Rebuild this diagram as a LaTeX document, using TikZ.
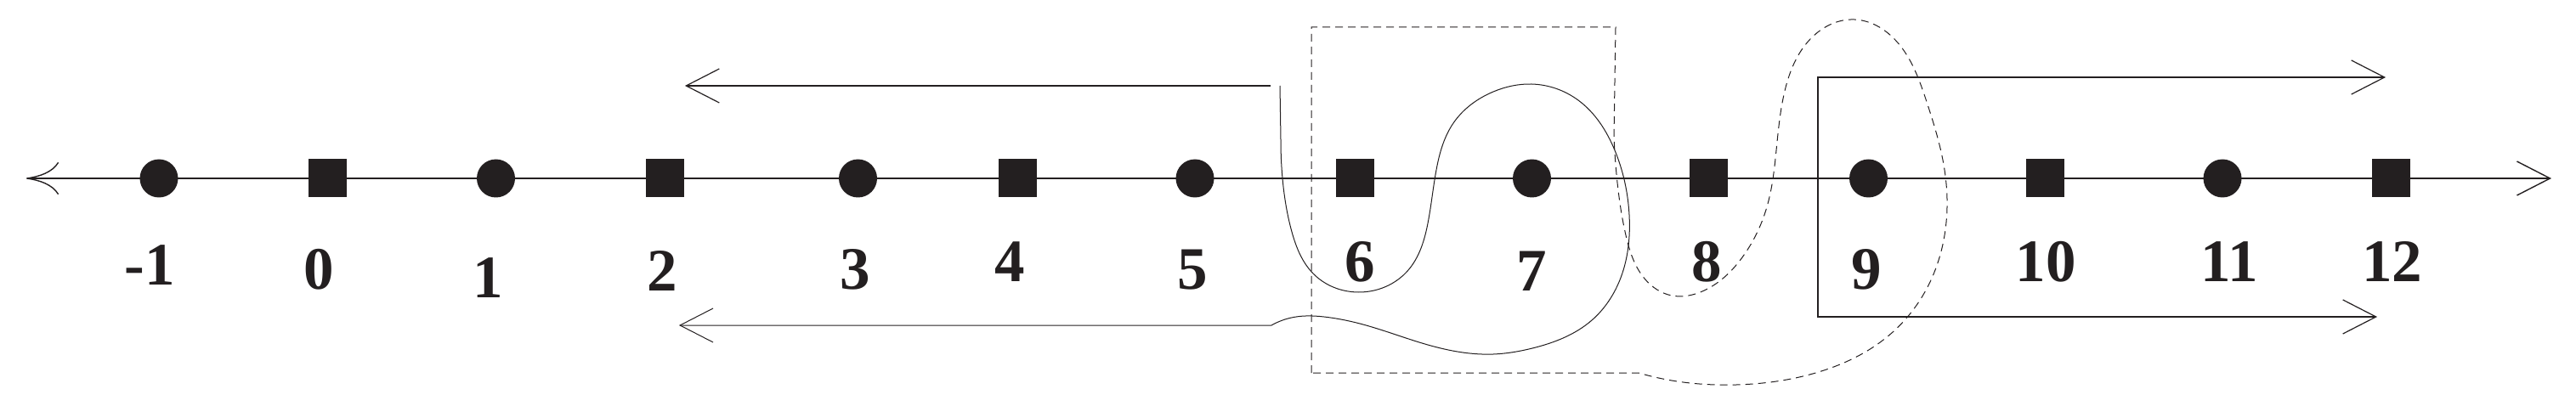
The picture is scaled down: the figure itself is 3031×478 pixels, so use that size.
\documentclass[tikz,border=0pt]{standalone}
\usepackage{fontspec}
\setmainfont{Liberation Serif}
\usetikzlibrary{arrows.meta,hobby}
\definecolor{ink}{RGB}{35,31,32}
\begin{document}
\begin{tikzpicture}[x=1pt,y=-1pt,
  dot/.style={circle, fill=ink, draw=none, inner sep=0pt, minimum size=45pt},
  sq/.style={rectangle, fill=ink, draw=none, inner sep=0pt, minimum size=45pt},
  lab/.style={anchor=base, inner sep=0pt, text=ink, font=\fontsize{71}{71}\selectfont\bfseries},
  axisline/.style={draw=ink, line width=1.4pt},
  arrline/.style={draw=ink, line width=1.2pt},
  curveline/.style={draw=ink, line width=1.0pt},
  dashline/.style={draw=ink, line width=1.0pt, dash pattern=on 9pt off 6pt},
  barb/.tip={Straight Barb[length=39pt,width=40pt]},
  cmbarb/.tip={Computer Modern Rightarrow[length=38pt,width=38pt]}
]
\useasboundingbox (0,0) rectangle (3031,478);

% axis
\coordinate (axL) at (31,210);
\coordinate (axR) at (3002,210);
\draw[axisline, {cmbarb}-{barb}] (axL) -- (axR);

% arrows on the left
\coordinate (tlS) at (1495,101);
\coordinate (tlE) at (806,101);
\draw[arrline, -{barb}] (tlS) -- (tlE);
\coordinate (cS) at (1506,101);
\coordinate (blS) at (1496,383);
\coordinate (blE) at (799,383);
\draw[curveline, use Hobby shortcut, -{barb}] (cS) -- (1507,165) .. (1509,210) .. (1520,273)
 .. (1545,322) .. (1598,344) .. (1657,318) .. (1680,263) .. (1690,200) .. (1710,145)
 .. (1757,108) .. (1802,99) .. (1857,118) .. (1900,177) .. (1917,253) .. (1907,327)
 .. (1873,377) .. (1803,410) .. (1757,417) .. (1680,406) .. (1600,381) .. (1562,373.5)
 .. (1522,373.5) .. (blS) -- (blE);

% bracket arrows on the right
\coordinate (rtE) at (2807,91);
\coordinate (rc1) at (2139,91);
\coordinate (rc2) at (2139,373);
\coordinate (rbE) at (2797,373);
\draw[arrline, {barb}-{barb}] (rtE) -- (rc1) -- (rc2) -- (rbE);

% dashed loop
\coordinate (d1) at (1543,439);
\coordinate (d2) at (1543,32);
\coordinate (d3) at (1901,32);
\draw[dashline, use Hobby shortcut] (d1) -- (d2) -- (d3) -- (1899,160) .. (1903,215)
 .. (1913,277) .. (1935,328) .. (1967,348) .. (2003,343) .. (2050,303) .. (2080,240)
 .. (2090,177) .. (2100,107) .. (2133,43) .. (2182,23) .. (2230,47) .. (2267,120)
 .. (2288,200) .. (2288,277) .. (2263,347) .. (2220,397) .. (2143,437) .. (2043,453)
 .. (1967,448) .. (1928,439) -- cycle;

% markers
\node[dot] (mneg) at (187,210) {};
\node[sq]  (m0)  at (385.5,210) {};
\node[dot] (m1)  at (583.5,210) {};
\node[sq]  (m2)  at (782,210) {};
\node[dot] (m3)  at (1009.5,210) {};
\node[sq]  (m4)  at (1197,210) {};
\node[dot] (m5)  at (1406,210) {};
\node[sq]  (m6)  at (1594.5,210) {};
\node[dot] (m7)  at (1802.5,210) {};
\node[sq]  (m8)  at (2010,210) {};
\node[dot] (m9)  at (2198.5,210) {};
\node[sq]  (m10) at (2406.5,210) {};
\node[dot] (m11) at (2615,210) {};
\node[sq]  (m12) at (2813,210) {};

% labels
\node[lab] (lneg) at (176,336) {-1};
\node[lab] (l0)  at (375,341) {0};
\node[lab] (l1)  at (574,351) {1};
\node[lab] (l2)  at (779.5,342) {2};
\node[lab] (l3)  at (1006.5,341) {3};
\node[lab] (l4)  at (1188,332) {4};
\node[lab] (l5)  at (1403,341) {5};
\node[lab] (l6)  at (1600,332) {6};
\node[lab] (l7)  at (1802,342) {7};
\node[lab] (l8)  at (2008,332) {8};
\node[lab] (l9)  at (2196.5,341) {9};
\node[lab] (l10) at (2407,332) {10};
\node[lab] (l11) at (2623,332) {11};
\node[lab] (l12) at (2814.5,332) {12};
\end{tikzpicture}
\end{document}
